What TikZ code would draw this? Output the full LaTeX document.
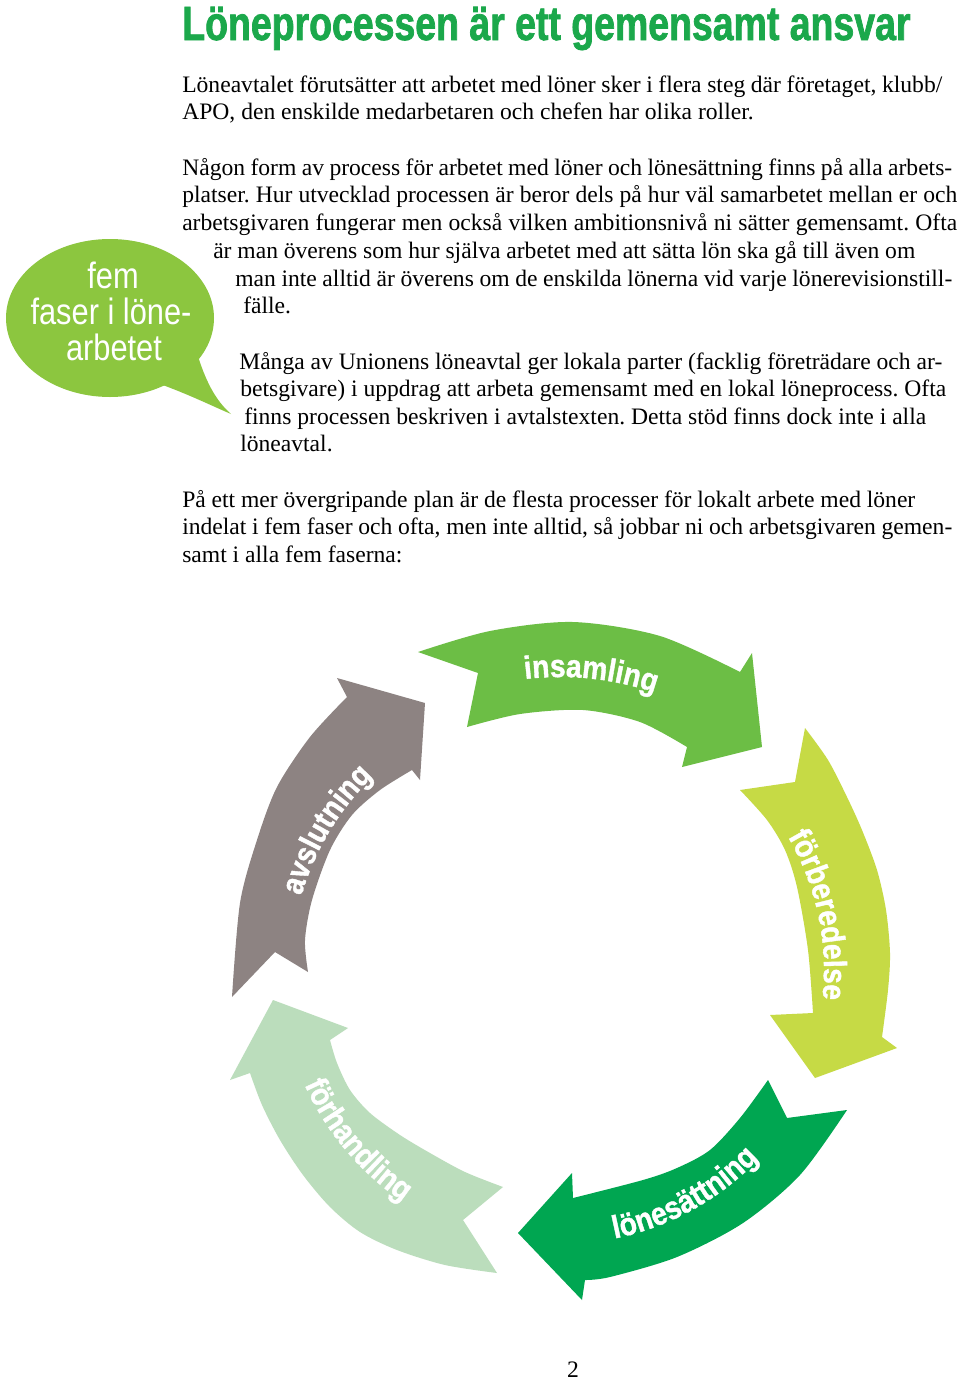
\documentclass[tikz,border=0pt]{standalone}
\usepackage{fontspec}
\usepackage{tikz}
\usetikzlibrary{decorations.text}

\newfontfamily\bodyfont{Liberation Serif}
\newfontfamily\titlefont[FakeStretch=0.78,FakeBold=1.5]{Liberation Sans}
\newfontfamily\bubblefont[FakeStretch=0.84]{Liberation Sans}
\newfontfamily\arrowfont[FakeStretch=0.88,FakeBold=1.2]{Liberation Sans}
\newcommand{\arrowlbl}{\arrowfont\bfseries\fontsize{24}{24}\selectfont}

\definecolor{titlegreen}{HTML}{1BA84B}
\definecolor{bubblegreen}{HTML}{8CC63F}
\definecolor{insamlingc}{HTML}{6CBE45}
\definecolor{forberedc}{HTML}{C6DA45}
\definecolor{lonesattc}{HTML}{00A651}
\definecolor{forhandlc}{HTML}{BBDDBC}
\definecolor{avslutc}{HTML}{8D8382}

\newlength\pxu
\setlength\pxu{0.75pt}
\newcommand{\jl}[2]{\makebox[#1\pxu][s]{#2}}
\frenchspacing

\begin{document}
\begin{tikzpicture}[x=0.75pt,y=-0.75pt,
    txt/.style={anchor=base west,inner sep=0pt,font=\bodyfont\fontsize{17.7}{20}\selectfont},
    bub/.style={anchor=base,inner sep=0pt,text=white,font=\bubblefont\fontsize{27.5}{27}\selectfont},
    lbl/.style={decorate,decoration={text along path,text align=center,text color=white}}]

  \useasboundingbox (0,0) rectangle (960,1381);
  \fill[white] (0,0) rectangle (960,1381);

  \node[anchor=base west,inner sep=0pt,text=titlegreen,
        font=\titlefont\bfseries\fontsize{36}{38}\selectfont] (title) at (182,40)
        {Löneprocessen är ett gemensamt ansvar};

  % speech bubble
  \fill[bubblegreen] (110,318) ellipse[x radius=104,y radius=79];
  \fill[bubblegreen] (196,350) .. controls (205,380) and (215,400) .. (231,414)
        .. controls (210,405) and (190,395) .. (160,384) -- cycle;
  \node[bub] (bub1) at (113,288) {fem};
  \node[bub] (bub2) at (111,324) {faser i löne-};
  \node[bub] (bub3) at (114,360) {arbetet};

  % body text
  \node[txt] (l1) at (182,92) {\jl{760}{Löneavtalet förutsätter att arbetet med löner sker i flera steg där företaget, klubb/}};
  \node[txt] (l2) at (182,119) {APO, den enskilde medarbetaren och chefen har olika roller.};
  \node[txt] (l3) at (182,175) {\jl{770}{Någon form av process för arbetet med löner och lönesättning finns på alla arbets-}};
  \node[txt] (l4) at (182,202) {\jl{775}{platser. Hur utvecklad processen är beror dels på hur väl samarbetet mellan er och}};
  \node[txt] (l5) at (182,230) {\jl{775}{arbetsgivaren fungerar men också vilken ambitionsnivå ni sätter gemensamt. Ofta}};
  \node[txt] (l6) at (213,258) {\jl{702}{är man överens som hur själva arbetet med att sätta lön ska gå till även om}};
  \node[txt] (l7) at (235,286) {\jl{717}{man inte alltid är överens om de enskilda lönerna vid varje lönerevisionstill-}};
  \node[txt] (l8) at (243,313) {fälle.};
  \node[txt] (l9) at (239,369) {\jl{703}{Många av Unionens löneavtal ger lokala parter (facklig företrädare och ar-}};
  \node[txt] (l10) at (240,396) {\jl{706}{betsgivare) i uppdrag att arbeta gemensamt med en lokal löneprocess. Ofta}};
  \node[txt] (l11) at (244,424) {\jl{682}{finns processen beskriven i avtalstexten. Detta stöd finns dock inte i alla}};
  \node[txt] (l12) at (240,451) {löneavtal.};
  \node[txt] (l13) at (182,507) {\jl{733}{På ett mer övergripande plan är de flesta processer för lokalt arbete med löner}};
  \node[txt] (l14) at (182,534) {\jl{770}{indelat i fem faser och ofta, men inte alltid, så jobbar ni och arbetsgivaren gemen-}};
  \node[txt] (l15) at (182,562) {samt i alla fem faserna:};

  % the five phases
  \coordinate (c) at (560,970);

  \fill[insamlingc] plot[smooth] coordinates {(418,652) (490,631) (573,622) (660,636) (740,672)}
        -- (752,653) -- (762,747) -- (682,767)
        -- plot[smooth] coordinates {(687,747) (640,722) (583,710) (520,714) (467,727)}
        -- (478,673) -- cycle;

  \fill[forberedc] (805,728) -- (795,782) -- (740,790)
        -- plot[smooth] coordinates {(740,790) (767,820) (785,850) (797,887) (808,950) (813,1013)}
        -- (770,1015) -- (815,1078) -- (897,1048)
        -- plot[smooth] coordinates {(882,1037) (888,990) (890,953) (886,910) (877,870) (862,830) (847,797) (828,760) (805,728)}
        -- cycle;

  \fill[lonesattc] (847,1110) -- (787,1118) -- (768,1080)
        -- plot[smooth] coordinates {(768,1080) (740,1118) (710,1150) (677,1168) (643,1180) (573,1198)}
        -- (572,1173) -- (518,1233) -- (582,1300)
        -- plot[smooth] coordinates {(585,1280) (610,1277) (677,1257) (743,1223) (800,1175) (847,1110)}
        -- cycle;

  \fill[forhandlc] (497,1273) -- (463,1220) -- (503,1187)
        -- plot[smooth] coordinates {(503,1187) (465,1172) (430,1153) (400,1135) (370,1113) (350,1090) (337,1063) (330,1040)}
        -- (348,1028) -- (273,1000) -- (230,1080)
        -- plot[smooth] coordinates {(250,1073) (262,1105) (280,1140) (303,1175) (330,1207) (360,1232) (397,1250) (445,1265) (497,1273)}
        -- cycle;

  \fill[avslutc] (232,997) -- (275,952) -- (308,972)
        -- plot[smooth] coordinates {(308,972) (305,940) (312,900) (330,850) (352,815) (380,790) (412,770)}
        -- (420,780) -- (425,703) -- (337,678)
        -- plot[smooth] coordinates {(347,697) (310,737) (277,787) (257,840) (240,903) (232,997)}
        -- cycle;

  \path[lbl,decoration={text={|\arrowlbl|insamling}}]
        ([shift={(-120:293)}]c) arc[start angle=-120,end angle=-48,radius=293];
  \path[lbl,decoration={text={|\arrowlbl|förberedelse}}]
        ([shift={(-52:264)}]c) arc[start angle=-52,end angle=28,radius=264];
  \path[lbl,decoration={text={|\arrowlbl|lönesättning}}]
        ([shift={(101:274)}]c) arc[start angle=101,end angle=21,radius=274];
  \path[lbl,decoration={text={|\arrowlbl|förhandling}}]
        ([shift={(180:280)}]c) arc[start angle=180,end angle=100,radius=280];
  \path[lbl,decoration={text={|\arrowlbl|avslutning}}]
        ([shift={(171:269)}]c) arc[start angle=171,end angle=251,radius=269];

  \node[anchor=base,inner sep=0pt,font=\bodyfont\fontsize{17.7}{20}\selectfont] (page) at (573,1377) {2};

\end{tikzpicture}
\end{document}
